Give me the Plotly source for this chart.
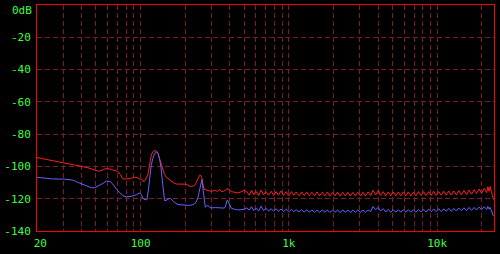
import plotly.graph_objects as go

# ---- data ----
f_red_low = [20,22,25,28,30,33,36,40,44,48, 52,56,59,64,70,73,76,80,85,91,
             95,98.5,101,105,108,112,115,118,121,123, 127.6,131,134,138,141.5,145,149,155,161,168,
             174,190,203,212,219,226,231,236,240,245, 250,255,259,263,268,276,284,295,307,320,
             330,341,350,359,373,388,400,409,430,452, 475,500]
red_low = [-94.5,-95.2,-96.6,-97.2,-97.6,-98.2,-99,-100,-100.8,-102,
           -103,-102,-101.2,-102,-103,-105,-107.7,-107.8,-107.5,-106.7,
           -107,-107.9,-107.7,-109.5,-108,-105,-99,-93,-90.8,-90.3,
           -90.4,-92,-95,-99,-103,-105,-106.7,-108,-109,-110.3,
           -110.9,-111,-111,-112,-112.5,-112,-111.8,-110.5,-108.7,-106.5,
           -105.5,-105.6,-107,-110.5,-114.2,-114.5,-114.8,-115.4,-115.2,-114.8,
           -115.6,-114.2,-115.6,-115.6,-114.8,-113.6,-115,-115.6,-116,-116.4,
           -115.8,-114.8]

f_blue_low = [20,22.6,25,30.8,35,38,42,46.5,49,51.6, 55.8,58.7,62.5,65,69.7,73,76,80,86.6,93.5,
              98.5,101,103.8,107,110.4,113,116,118,121,124.3, 128.9,131,134,137,139.4,142,145,149,153,159,
              164,169,178.6,195,214,225,231,237,243.6,248, 252.4,256,259,262,265.5,269,273,278,284,292,
              299,320,350,365,372,378,384,390,397,409, 430,452,475,500]
blue_low = [-106.7,-107.5,-107.7,-107.9,-108.5,-110,-111.8,-113.2,-113.2,-112.3,
            -110.5,-109,-109.5,-111,-114.8,-116.5,-118.2,-118.8,-118.5,-117.6,
            -116.4,-117.5,-119.8,-120.6,-120.6,-114,-105,-99,-95,-92,
            -91,-92,-95,-100,-107,-114,-121.2,-121,-120.2,-119.8,
            -121,-122.2,-123.6,-124,-124.2,-123.6,-123.2,-122,-119.2,-116,
            -113.1,-109.5,-108.1,-112,-116.2,-121,-125.3,-124.5,-124.2,-125.2,
            -125.7,-125.5,-125.9,-125.8,-125.3,-123,-120.8,-121.8,-123.2,-125.9,
            -126.5,-126.9,-126.8,-126.5]

f_high = [520,540,560,580,600,625,650,675,700,730, 760,790,820,850,885,920,960,1000,1040,1080,
          1120,1170,1220,1270,1320,1370,1430,1490,1550,1610, 1680,1750,1820,1890,1970,2050,2130,2220,2310,2400,
          2500,2600,2700,2810,2920,3040,3160,3290,3420,3560, 3700,3850,4000,4160,4330,4500,4680,4870,5060,5260,
          5470,5690,5920,6160,6400,6660,6930,7200,7490,7790, 8100,8430,8770,9120,9480,9860,10250,10660,11090,11530,
          11990,12470,12970,13490,14030,14590,15170,15780,16410,17070, 17750,18460,19200,19970,20770,21600,22000,22400,22800,23200,
          23600,24000]
red_high = [-115.6,-117.8,-114.8,-117.6,-115.4,-118.0,-114.6,-117.6,-115.6,-117.8,
            -115.4,-118.0,-115.6,-117.8,-115.2,-118.0,-115.6,-118.2,-115.6,-117.8,
            -115.8,-118.2,-115.8,-118.0,-115.8,-118.2,-116.0,-118.2,-115.8,-118.2,
            -116.0,-118.2,-115.8,-118.4,-116.0,-118.2,-115.8,-118.4,-116.0,-118.2,
            -116.0,-118.4,-116.0,-118.2,-116.0,-118.4,-116.0,-118.2,-115.8,-118.0,
            -114.8,-117.6,-115.0,-118.0,-115.6,-118.2,-115.8,-118.2,-115.8,-118.2,
            -115.8,-118.2,-115.8,-118.2,-115.8,-118.2,-115.8,-118.2,-115.6,-118.0,
            -115.6,-118.0,-115.6,-118.0,-115.4,-118.0,-115.6,-117.8,-115.4,-117.8,
            -115.2,-117.8,-115.2,-117.6,-115.0,-117.6,-114.8,-117.4,-114.6,-117.2,
            -114.4,-116.8,-114.0,-116.6,-113.6,-116.2,-112.6,-115.4,-112.4,-116.0,
            -118.0,-120.5]
blue_high = [-125.6,-127.0,-125.0,-127.4,-125.8,-127.6,-124.6,-127.4,-126.0,-127.6,
             -126.2,-127.8,-126.2,-127.8,-126.4,-128.0,-126.4,-128.0,-126.6,-128.0,
             -126.8,-128.2,-126.8,-128.4,-126.8,-128.4,-127.0,-128.4,-127.0,-128.4,
             -127.0,-128.4,-127.0,-128.6,-127.0,-128.4,-127.0,-128.6,-127.0,-128.4,
             -127.0,-128.6,-127.0,-128.4,-127.0,-128.6,-127.0,-128.4,-127.0,-128.0,
             -124.8,-126.8,-125.4,-127.6,-126.2,-128.2,-126.6,-128.4,-126.8,-128.4,
             -126.8,-128.4,-126.8,-128.4,-126.8,-128.4,-126.8,-128.4,-126.6,-128.2,
             -126.6,-128.2,-126.4,-128.0,-126.4,-128.0,-126.2,-128.0,-126.2,-127.8,
             -126.0,-127.8,-126.0,-127.6,-125.8,-127.4,-125.6,-127.4,-125.4,-127.2,
             -125.4,-127.0,-125.2,-126.8,-125.0,-126.6,-124.8,-126.4,-125.4,-127.6,
             -129.5,-130.8]

x_grid = [20,30,40,50,60,70,80,90,100,200,300,400,500,600,700,800,900,
          1000,2000,3000,4000,5000,6000,7000,8000,9000,10000,20000]
x_labels = {20: "\u00a020", 100: "100", 1000: "1k", 10000: "10k"}
y_ticks = [0,-20,-40,-60,-80,-100,-120,-140]
y_labels = ["","-20","-40","-60","-80","-100","-120","-140"]
top_label = "0dB"

assert len(f_red_low) == len(red_low)
assert len(f_blue_low) == len(blue_low)
assert len(f_high) == len(red_high) == len(blue_high)

GRID = "#7a1e2c"
GREEN = "#40ff40"
FONT = dict(family="DejaVu Sans Mono", size=11, color=GREEN)

fig = go.Figure()
fig.add_trace(go.Scatter(x=f_red_low + f_high, y=red_low + red_high, mode="lines",
                         line=dict(color="#ff2020", width=1), hoverinfo="skip"))
fig.add_trace(go.Scatter(x=f_blue_low + f_high, y=blue_low + blue_high, mode="lines",
                         line=dict(color="#6464ff", width=1), hoverinfo="skip"))

fig.add_annotation(text=top_label, xref="paper", yref="y", x=0, y=0,
                   xanchor="right", yanchor="top", xshift=-3, yshift=3,
                   showarrow=False, font=FONT)

fig.update_layout(
    width=500, height=254,
    margin=dict(l=34, r=6, t=4, b=20),
    paper_bgcolor="black", plot_bgcolor="black",
    showlegend=False,
    xaxis=dict(type="log", range=[1.30103, 4.3838],
               tickmode="array", tickvals=x_grid,
               ticktext=[x_labels.get(v, "") for v in x_grid],
               showgrid=True, gridcolor=GRID, gridwidth=1, griddash="5px,3px",
               showline=True, mirror=True, linecolor="#ff0000", linewidth=1,
               ticks="", tickfont=FONT, zeroline=False, ticklabelstandoff=2),
    yaxis=dict(range=[-140, 0], tickmode="array", tickvals=y_ticks, ticktext=y_labels,
               showgrid=True, gridcolor=GRID, gridwidth=1, griddash="5px,3px",
               showline=True, mirror=True, linecolor="#ff0000", linewidth=1,
               ticks="", tickfont=FONT, zeroline=False, ticklabelstandoff=3),
)

fig.write_html("out.html")
